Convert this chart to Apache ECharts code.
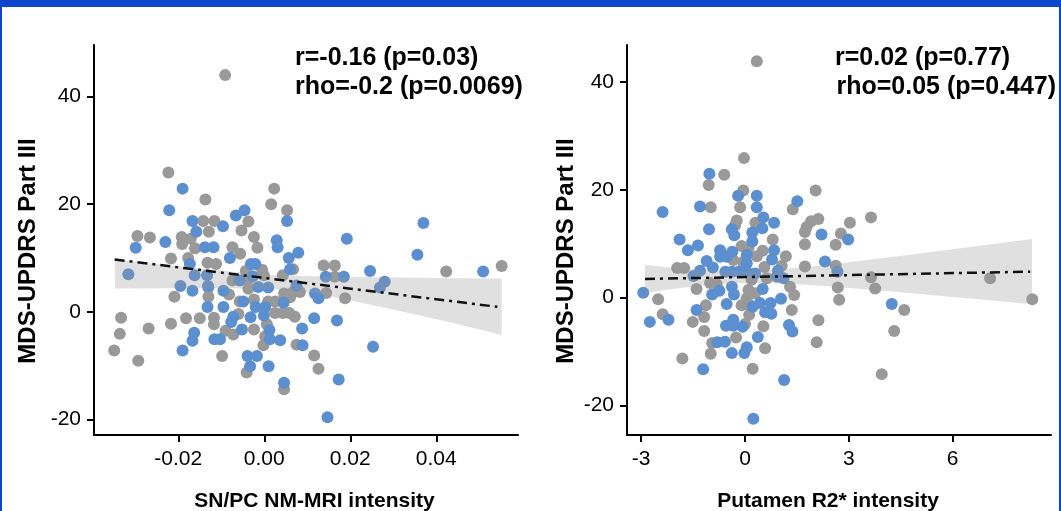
<!DOCTYPE html>
<html>
<head>
<meta charset="utf-8">
<script src="https://cdn.jsdelivr.net/npm/echarts@6/dist/echarts.min.js"></script>
<style>
html,body{margin:0;padding:0;background:#fff;}
#wrap{position:relative;width:1061px;height:511px;overflow:hidden;}
#chart{position:absolute;left:0;top:0;width:1061px;height:511px;}
.bd{position:absolute;background:#0d45cc;pointer-events:none;}
</style>
</head>
<body>
<div id="wrap">
<div id="chart"></div>
<div class="bd" style="left:0;top:0;width:1061px;height:7px;"></div>
<div class="bd" style="left:0;top:0;width:2px;height:511px;"></div>
<div class="bd" style="left:1059px;top:0;width:2px;height:511px;"></div>
</div>
<script>
// ---------- Panel A: SN/PC NM-MRI intensity vs MDS-UPDRS Part III ----------
const snGray = [[-0.0091,44.0],[-0.0223,25.9],[0.0023,22.9],[-0.0137,20.9],[0.0016,20.0],[0.0053,18.9],[-0.0142,16.9],[-0.0116,16.9],[-0.0037,16.8],[-0.0129,14.9],[-0.0053,15.1],[-0.0295,14.1],[-0.0266,13.8],[-0.0192,13.9],[-0.0171,13.6],[-0.0024,13.9],[-0.0191,12.6],[-0.0161,11.8],[-0.0074,12.0],[-0.0016,11.9],[-0.0056,10.8],[-0.0217,9.9],[-0.0177,10.0],[-0.0132,9.1],[-0.0112,8.9],[-0.0043,7.6],[-0.0005,7.8],[-0.0001,6.8],[0.0043,6.8],[0.0067,7.9],[-0.0074,5.8],[-0.0037,6.0],[-0.0037,4.3],[-0.0130,4.5],[-0.0130,2.8],[-0.0209,2.8],[-0.0082,3.2],[0.0046,3.4],[0.0067,3.7],[0.0083,3.7],[-0.0057,1.9],[-0.0024,2.3],[0.0009,1.9],[0.0025,1.9],[0.0040,1.9],[0.0025,-0.2],[0.0043,-0.2],[0.0058,-0.2],[0.0071,-0.9],[-0.0333,-1.1],[-0.0269,-3.1],[-0.0217,-2.2],[-0.0182,-1.2],[-0.0150,-1.2],[-0.0117,-1.1],[-0.0117,-2.3],[-0.0060,-0.4],[0.0006,-2.3],[-0.0336,-4.1],[-0.0090,-3.5],[-0.0072,-4.2],[-0.0024,-3.3],[0.0002,-4.6],[-0.0002,-6.2],[0.0075,-6.1],[-0.0349,-7.2],[-0.0293,-9.1],[-0.0098,-8.2],[0.0116,-8.1],[-0.0041,-11.3],[0.0126,-10.6],[0.0046,-14.4],[0.0138,8.6],[0.0164,8.6],[0.0164,6.5],[0.0144,3.5],[0.0188,2.5],[0.0423,7.5],[0.0552,8.5],[0.0060,2.7]];
const snBlue = [[-0.0190,22.9],[-0.0221,18.9],[-0.0046,18.9],[-0.0066,17.9],[-0.0167,16.9],[-0.0096,15.9],[-0.0158,14.9],[0.0053,16.9],[-0.0230,13.0],[-0.0299,11.9],[-0.0138,12.0],[-0.0118,12.0],[0.0029,13.3],[0.0031,12.0],[0.0079,11.0],[0.0057,10.0],[-0.0080,10.0],[-0.0173,8.9],[-0.0031,8.9],[-0.0021,8.9],[0.0060,7.9],[-0.0162,6.8],[-0.0133,6.8],[-0.0316,7.0],[-0.0057,5.8],[-0.0027,6.6],[-0.0195,4.8],[-0.0131,4.8],[-0.0167,3.9],[-0.0014,4.6],[0.0009,4.5],[0.0075,4.9],[-0.0095,3.9],[0.0118,3.4],[0.0126,2.5],[-0.0049,1.9],[0.0045,1.7],[-0.0132,0.9],[-0.0095,0.9],[-0.0020,0.9],[0.0002,0.9],[-0.0032,-1.0],[-0.0001,-0.7],[-0.0072,-0.9],[-0.0077,-1.9],[0.0116,-1.2],[-0.0052,-3.3],[0.0088,-3.1],[-0.0163,-3.9],[-0.0167,-5.4],[-0.0116,-5.1],[-0.0103,-5.1],[0.0012,-3.4],[0.0013,-5.1],[0.0037,-5.3],[0.0089,-6.2],[-0.0190,-7.2],[-0.0039,-8.2],[-0.0017,-8.2],[-0.0033,-10.1],[0.0010,-10.1],[0.0046,-13.2],[0.0192,13.6],[0.0370,16.5],[0.0356,10.6],[0.0246,7.6],[0.0143,6.5],[0.0185,6.5],[0.0280,5.6],[0.0269,4.5],[0.0169,-1.6],[0.0253,-6.5],[0.0173,-12.6],[0.0147,-19.6],[0.0509,7.5]];
const snFit = [[-0.0348,9.74],[0.0542,0.93]];
const snBandX = [-0.0347,-0.0231,-0.0115,0.0002,0.0083,0.0199,0.0315,0.0432,0.0552];
const snBandUpper = [9.74,8.68,7.75,6.91,6.64,6.45,6.36,6.26,6.21];
const snBandLower = [4.35,4.37,4.37,4.31,3.94,2.17,0.13,-1.92,-4.33];
const snXTicks = [-0.02,0,0.02,0.04];
const snText = ['r=-0.16 (p=0.03)','rho=-0.2 (p=0.0069)'];

// ---------- Panel B: Putamen R2* intensity vs MDS-UPDRS Part III ----------
const ptGray = [[-0.03,25.9],[0.34,43.9],[-0.60,22.8],[-1.05,20.9],[-0.05,19.9],[2.04,19.9],[-0.99,16.8],[-0.14,16.8],[1.38,16.4],[-0.24,14.3],[-0.29,13.4],[0.30,13.9],[2.12,14.6],[1.91,14.2],[1.78,13.1],[1.73,12.2],[3.03,13.9],[2.77,11.9],[0.80,10.8],[1.73,9.9],[2.62,9.8],[-0.10,9.6],[0.10,9.2],[0.51,8.7],[1.18,7.7],[-0.34,7.0],[0.34,7.7],[1.06,5.9],[0.56,5.7],[-1.96,5.5],[-1.76,5.5],[1.73,5.8],[2.62,5.9],[-0.06,6.6],[-0.14,4.8],[0.05,4.8],[0.19,3.3],[-1.01,2.7],[-0.82,2.5],[0.63,3.6],[-1.40,1.6],[2.68,1.9],[1.30,2.0],[0.10,1.4],[0.29,0.8],[1.42,0.5],[-2.51,-0.3],[2.72,-0.4],[0.05,-0.1],[0.14,-1.4],[-0.10,-1.4],[-1.13,-1.4],[-1.18,-3.6],[1.35,-2.3],[-2.38,-3.1],[-1.51,-4.5],[0.12,-3.2],[0.00,-4.9],[0.53,-5.3],[2.12,-4.2],[-1.18,-6.2],[-0.95,-8.4],[-0.26,-7.4],[0.58,-9.4],[2.07,-8.3],[-0.99,-10.4],[-1.81,-11.3],[0.22,-13.2],[3.64,14.9],[3.64,3.8],[7.08,3.6],[3.76,1.7],[8.30,-0.3],[4.60,-2.3],[4.31,-6.2],[3.95,-14.2]];
const ptBlue = [[-1.03,23.0],[-0.20,18.9],[0.34,18.9],[0.34,16.8],[-1.30,16.9],[1.51,17.9],[-2.38,15.9],[0.53,14.9],[0.84,13.9],[-1.04,12.7],[-0.38,12.7],[-0.31,11.6],[0.21,12.1],[0.50,12.9],[0.21,10.4],[2.21,11.7],[2.98,10.8],[-1.89,10.8],[-1.65,8.8],[-1.36,9.7],[0.84,8.8],[-0.72,8.8],[-0.37,8.5],[-0.72,7.6],[-0.53,7.6],[0.05,7.9],[0.05,6.4],[0.78,7.1],[-1.11,6.8],[2.31,6.7],[-0.93,5.6],[-1.30,5.0],[-1.49,4.0],[-0.57,4.8],[-0.38,4.8],[-0.19,4.8],[0.00,4.8],[0.29,4.5],[0.95,5.0],[0.92,3.9],[1.11,3.6],[2.67,4.8],[-0.38,2.0],[0.51,1.6],[-0.74,1.3],[-0.95,0.6],[-0.32,0.6],[-2.94,0.9],[1.04,-0.2],[-0.53,-1.2],[0.22,-1.7],[0.43,-1.0],[0.74,-1.0],[-1.40,-2.3],[0.58,-2.7],[0.76,-3.0],[-2.75,-4.5],[-2.21,-4.1],[-0.34,-4.1],[-0.55,-5.2],[-0.34,-5.2],[-0.07,-5.4],[1.27,-5.1],[1.37,-6.3],[0.37,-7.3],[-0.80,-8.3],[-0.58,-8.2],[0.05,-9.2],[-0.02,-10.3],[-0.38,-10.3],[-1.21,-13.3],[1.13,-15.3],[0.24,-22.5],[4.24,-1.2]];
const ptFit = [[-2.89,3.47],[8.24,4.82]];
const ptBandX = [-2.89,-2,-1,0,1,2,3,4,5,6,7,8.29];
const ptBandUpper = [6.1,5.46,5.06,4.93,5.22,5.83,6.56,7.35,8.16,8.98,9.8,10.89];
const ptBandLower = [0.84,1.70,2.34,2.71,2.66,2.29,1.80,1.27,0.70,0.12,-0.46,-1.23];
const ptXTicks = [-3,0,3,6];
const ptText = ['r=0.02 (p=0.77)','rho=0.05 (p=0.447)'];

const yTicks = [-20,0,20,40];

// ---------- styling ----------
const FONT = '"Liberation Sans", Arial, Helvetica, sans-serif';
const GRAY = '#999999';
const BLUE = '#5b8fcf';
const BAND = 'rgba(153,153,153,0.3)';

function xAxisCfg(idx, min, max, ticks, fmt){
  return {
    type:'value', gridIndex:idx, min:min, max:max,
    axisLine:{show:true, onZero:false, lineStyle:{color:'#000', width:2}},
    axisTick:{show:true, length:7, lineStyle:{color:'#000', width:2}, customValues:ticks},
    axisLabel:{customValues:ticks, formatter:fmt, fontSize:21, color:'#000', margin:14, fontFamily:FONT},
    splitLine:{show:false}
  };
}
function yAxisCfg(idx, min, max){
  return {
    type:'value', gridIndex:idx, min:min, max:max,
    axisLine:{show:true, onZero:false, lineStyle:{color:'#000', width:2}},
    axisTick:{show:true, length:7, lineStyle:{color:'#000', width:2}, customValues:yTicks},
    axisLabel:{customValues:yTicks, fontSize:21, color:'#000', margin:13, fontFamily:FONT},
    splitLine:{show:false}
  };
}
function bandSeries(idx, bx, bu, bl){
  return {
    type:'custom', xAxisIndex:idx, yAxisIndex:idx, silent:true, z:3, clip:true,
    data:[[bx[0], bu[0]]],
    renderItem:function(params, api){
      const pts = [];
      for (let i=0;i<bx.length;i++) pts.push(api.coord([bx[i], bu[i]]));
      for (let i=bx.length-1;i>=0;i--) pts.push(api.coord([bx[i], bl[i]]));
      return {type:'polygon', shape:{points:pts}, style:{fill:BAND, stroke:null}};
    }
  };
}
function scatterSeries(idx, data, color){
  return {type:'scatter', xAxisIndex:idx, yAxisIndex:idx, data:data, symbolSize:12, z:2,
    itemStyle:{color:color, opacity:1}, silent:true};
}
function fitSeries(idx, data){
  return {type:'line', xAxisIndex:idx, yAxisIndex:idx, data:data, showSymbol:false, symbol:'none', z:4, silent:true,
    lineStyle:{color:'#111', width:2.5, type:[10,5,3,5]}};
}
function txt(x, y, s, size, opts){
  return Object.assign({type:'text', x:x, y:y, silent:true, z:10,
    style:{text:s, font:'bold '+size+'px '+FONT, fill:'#000',
      align:(opts&&opts.align)||'left', verticalAlign:'middle',
      textAlign:(opts&&opts.align)||'left', textVerticalAlign:'middle'}}, (opts&&opts.extra)||{});
}

const chart = echarts.init(document.getElementById('chart'), null, {renderer:'canvas'});
chart.setOption({
  animation:false,
  backgroundColor:'#ffffff',
  grid:[
    {left:94, top:45, width:424, height:390},
    {left:627, top:45, width:424, height:390}
  ],
  xAxis:[
    xAxisCfg(0, -0.0396, 0.059, snXTicks, v => v.toFixed(2)),
    xAxisCfg(1, -3.41, 8.84, ptXTicks, v => String(Math.round(v)))
  ],
  yAxis:[
    yAxisCfg(0, -22.9, 49.6),
    yAxisCfg(1, -25.5, 46.9)
  ],
  series:[
    scatterSeries(0, snGray, GRAY),
    scatterSeries(0, snBlue, BLUE),
    bandSeries(0, snBandX, snBandUpper, snBandLower),
    fitSeries(0, snFit),
    scatterSeries(1, ptGray, GRAY),
    scatterSeries(1, ptBlue, BLUE),
    bandSeries(1, ptBandX, ptBandUpper, ptBandLower),
    fitSeries(1, ptFit)
  ],
  graphic:[
    txt(28.5, 251, 'MDS-UPDRS Part III', 24, {align:'center', extra:{rotation:Math.PI/2}}),
    txt(566.5, 251, 'MDS-UPDRS Part III', 24, {align:'center', extra:{rotation:Math.PI/2}}),
    txt(314.5, 501, 'SN/PC NM-MRI intensity', 21, {align:'center'}),
    txt(828, 501, 'Putamen R2* intensity', 21, {align:'center'}),
    txt(295, 58, snText[0], 25),
    txt(295, 87, snText[1], 25),
    txt(835, 58, ptText[0], 25),
    txt(836.5, 87, ptText[1], 25)
  ]
});
</script>
</body>
</html>
